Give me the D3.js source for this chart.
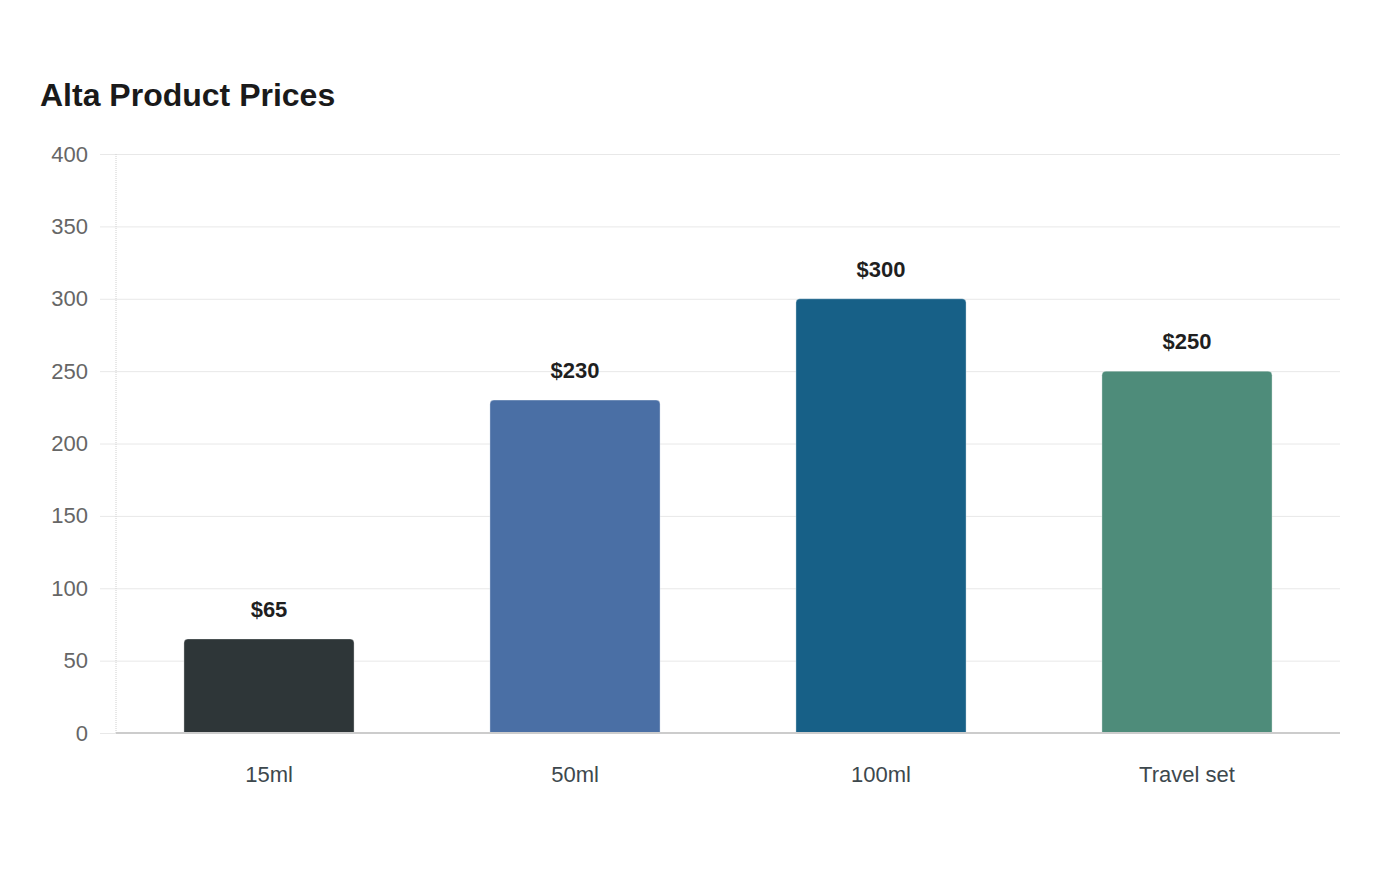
<!DOCTYPE html>
<html>
<head>
<meta charset="utf-8">
<script src="https://cdn.jsdelivr.net/npm/d3@7"></script>
<style>
  body { margin: 0; background: #fff; }
  svg { font-family: "Liberation Sans", Arial, sans-serif; }
</style>
</head>
<body>
<div id="chart"></div>
<script>
const categories = ["15ml", "50ml", "100ml", "Travel set"];
const prices = [65, 230, 300, 250];
const barColors = ["#2e3638", "#4a6fa5", "#176087", "#4e8c7a"];
const yTicks = [0, 50, 100, 150, 200, 250, 300, 350, 400];

const width = 1400;
const height = 880;
const margin = { top: 154, right: 60, bottom: 147, left: 116 };

const svg = d3.select("#chart").append("svg")
    .attr("width", width)
    .attr("height", height);

// title
svg.append("text")
    .attr("x", 40)
    .attr("y", 106)
    .attr("font-size", 32)
    .attr("font-weight", "bold")
    .attr("fill", "#1a1a1a")
    .text("Alta Product Prices");

const x = d3.scaleBand()
    .domain(categories)
    .range([margin.left, width - margin.right])
    .paddingInner(0.444)
    .paddingOuter(0.222);

const y = d3.scaleLinear()
    .domain([0, 400])
    .range([height - margin.bottom, margin.top]);

// grid + y labels (ticks stick out 16px left of the plot)
const yAxis = d3.axisLeft(y)
    .tickValues(yTicks)
    .tickSize(-(width - margin.right - margin.left + 16))
    .tickPadding(12);

const gy = svg.append("g")
    .attr("transform", `translate(${margin.left - 16},0)`)
    .call(yAxis);
gy.select(".domain").remove();
gy.selectAll(".tick line").attr("stroke", "#e8e8e8").attr("stroke-width", 1);
gy.selectAll(".tick text")
    .attr("font-size", 22)
    .attr("fill", "#666")
    .attr("font-family", "Liberation Sans, Arial, sans-serif");

// dotted y axis line
svg.append("line")
    .attr("x1", margin.left).attr("x2", margin.left)
    .attr("y1", margin.top).attr("y2", y(0))
    .attr("stroke", "#d0d0d0")
    .attr("stroke-dasharray", "1,1");

// bars with rounded top corners
const r = 4;
function barPath(d, i) {
    const x0 = x(categories[i]);
    const w = x.bandwidth();
    const yt = y(d);
    const yb = y(0);
    return `M${x0},${yb}V${yt + r}Q${x0},${yt} ${x0 + r},${yt}H${x0 + w - r}Q${x0 + w},${yt} ${x0 + w},${yt + r}V${yb}Z`;
}

svg.append("g")
    .selectAll("path")
    .data(prices)
    .join("path")
    .attr("d", barPath)
    .attr("fill", (d, i) => barColors[i])
    .attr("stroke", "rgba(255,255,255,0.35)")
    .attr("stroke-width", 1);

// value labels
svg.append("g")
    .selectAll("text")
    .data(prices)
    .join("text")
    .attr("x", (d, i) => x(categories[i]) + x.bandwidth() / 2)
    .attr("y", d => y(d) - 22)
    .attr("text-anchor", "middle")
    .attr("font-size", 22)
    .attr("font-weight", "bold")
    .attr("fill", "#1f1f1f")
    .text(d => `$${d}`);

// x axis baseline
svg.append("line")
    .attr("x1", margin.left).attr("x2", width - margin.right)
    .attr("y1", y(0)).attr("y2", y(0))
    .attr("stroke", "#cccccc")
    .attr("stroke-width", 2);

// category labels
svg.append("g")
    .selectAll("text")
    .data(categories)
    .join("text")
    .attr("x", d => x(d) + x.bandwidth() / 2)
    .attr("y", 782)
    .attr("text-anchor", "middle")
    .attr("font-size", 22)
    .attr("fill", "#3d484d")
    .text(d => d);
</script>
</body>
</html>
